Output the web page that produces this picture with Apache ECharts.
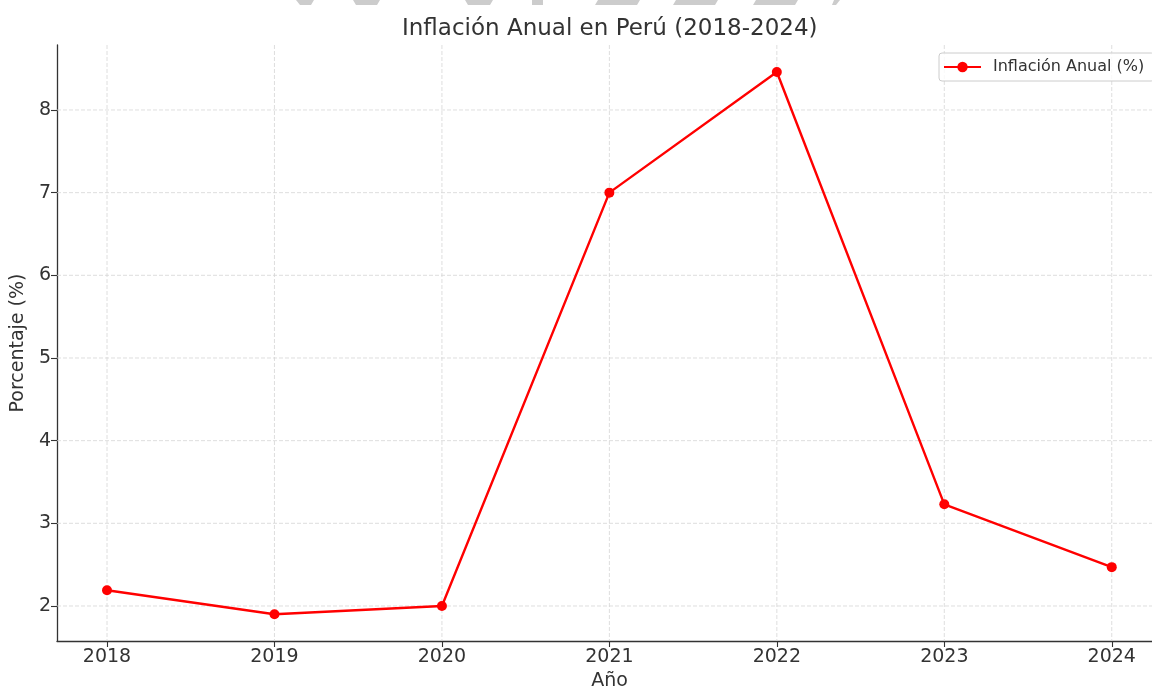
<!DOCTYPE html>
<html>
<head>
<meta charset="utf-8">
<script src="https://cdn.jsdelivr.net/npm/echarts@6/dist/echarts.min.js"></script>
<style>
  html, body { margin: 0; padding: 0; background: #fff; }
  #chart { width: 1152px; height: 691px; }
</style>
</head>
<body>
<div id="chart"></div>
<script>
// Annual inflation in Peru, 2018–2024 (%)
const years = [2018, 2019, 2020, 2021, 2022, 2023, 2024];
const inflation = [2.19, 1.90, 2.00, 7.00, 8.46, 3.23, 2.47];
const yTicks = [2, 3, 4, 5, 6, 7, 8];

const seriesName = 'Inflación Anual (%)';
const textColor = '#333333';
const font = 'DejaVu Sans';

const points = years.map((y, i) => [y, inflation[i]]);
// one entry per grid line: [axis, value]
const gridValues = years.map(y => ['x', y]).concat(yTicks.map(v => ['y', v]));

const chart = echarts.init(document.getElementById('chart'), null, { renderer: 'canvas' });

// faint header shapes along the top edge
const topShapes = [
  [[296, 0], [314, 0], [311, 5], [300, 5]],
  [[353, 0], [380, 0], [377, 5], [356, 5]],
  [[465, 0], [493, 0], [490, 5], [468, 5]],
  [[532, 0], [543, 0], [543, 5], [532, 5]],
  [[598, 0], [640, 0], [637, 5], [595, 5]],
  [[676, 0], [718, 0], [715, 5], [673, 5]],
  [[756, 0], [798, 0], [795, 5], [753, 5]],
  [[834, 0], [840, 0], [836, 5], [832, 5]]
];

// dashed grid line drawn through the axes' scales
function renderGridLine(params, api) {
  const cs = params.coordSys;
  const kind = gridValues[params.dataIndex][0];
  const v = gridValues[params.dataIndex][1];
  let x1, y1, x2, y2;
  if (kind === 'x') {
    const p = api.coord([v, 5]);
    x1 = x2 = p[0]; y1 = cs.y; y2 = cs.y + cs.height;
  } else {
    const p = api.coord([2020, v]);
    y1 = y2 = p[1]; x1 = cs.x; x2 = cs.x + cs.width;
  }
  return {
    type: 'line',
    shape: { x1, y1, x2, y2 },
    style: { stroke: '#d6d6d6', lineWidth: 0.8, lineDash: [4, 2] },
    silent: true
  };
}

chart.setOption({
  backgroundColor: '#ffffff',
  animation: false,
  textStyle: { fontFamily: font },
  graphic: topShapes.map(pts => ({
    type: 'polygon',
    shape: { points: pts },
    style: { fill: '#cccccc' },
    silent: true
  })),
  title: {
    text: 'Inflación Anual en Perú (2018-2024)',
    left: 402,
    top: 18,
    padding: 0,
    textStyle: { fontFamily: font, fontSize: 23, fontWeight: 'normal', color: textColor }
  },
  legend: {
    data: [seriesName],
    left: 939,
    top: 53,
    padding: [6, 10, 6, 4],
    itemWidth: 37,
    itemHeight: 13,
    backgroundColor: 'rgba(255,255,255,0.8)',
    borderColor: '#cccccc',
    borderWidth: 1,
    borderRadius: 3,
    textStyle: { fontFamily: font, fontSize: 16, color: textColor, padding: [0, 0, 0, 7] }
  },
  grid: {
    left: 57, top: 45, width: 1105, height: 596,
    containLabel: false,
    outerBoundsMode: 'none'
  },
  xAxis: {
    type: 'value',
    min: 2017.7014,
    max: 2024.300,
    name: 'Año',
    nameLocation: 'middle',
    nameGap: 31,
    nameTextStyle: { fontFamily: font, fontSize: 19, color: textColor },
    axisLine: { show: true, onZero: false, lineStyle: { color: '#333333', width: 1.3 } },
    axisTick: { show: true, customValues: years, length: 6, lineStyle: { color: '#333333', width: 1.1 } },
    axisLabel: {
      customValues: years,
      formatter: v => String(v),
      margin: 7,
      fontFamily: font, fontSize: 19, color: textColor
    },
    splitLine: { show: false }
  },
  yAxis: {
    type: 'value',
    min: 1.5766,
    max: 8.786,
    name: 'Porcentaje (%)',
    nameLocation: 'middle',
    nameGap: 25,
    nameTextStyle: { fontFamily: font, fontSize: 19, color: textColor },
    axisLine: { show: true, onZero: false, lineStyle: { color: '#333333', width: 1.3 } },
    axisTick: { show: true, customValues: yTicks, length: 6, lineStyle: { color: '#333333', width: 1.1 } },
    axisLabel: {
      customValues: yTicks,
      formatter: v => String(v),
      margin: 6,
      fontFamily: font, fontSize: 19, color: textColor
    },
    splitLine: { show: false }
  },
  series: [
    {
      type: 'custom',
      renderItem: renderGridLine,
      data: gridValues.map((g, i) => i),
      silent: true,
      z: 1,
      tooltip: { show: false }
    },
    {
      name: seriesName,
      type: 'line',
      data: points,
      z: 3,
      symbol: 'circle',
      symbolSize: 10,
      itemStyle: { color: '#ff0000', borderWidth: 0, borderColor: '#ff0000' },
      lineStyle: { color: '#ff0000', width: 2.4 }
    }
  ]
});
</script>
</body>
</html>
